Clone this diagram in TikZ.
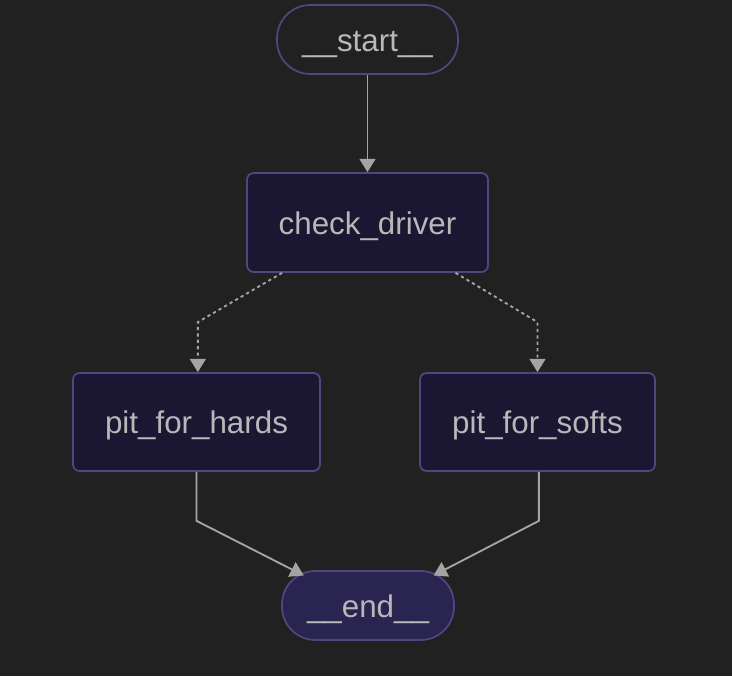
\documentclass[tikz,border=0pt]{standalone}
\usepackage{fontspec}
\setmainfont{Liberation Sans}
\usetikzlibrary{positioning}
\usetikzlibrary{arrows.meta}

\definecolor{bgcol}{HTML}{212121}
\definecolor{boxfill}{HTML}{1B1732}
\definecolor{endfill}{HTML}{2A2450}
\definecolor{rimcol}{HTML}{52467F}
\definecolor{txtcol}{HTML}{B8B8B8}
\definecolor{edgecol}{HTML}{A4A4A4}

\tikzset{
	stepbox/.style={draw=rimcol,line width=1.3pt,fill=boxfill,rounded corners=5pt,
		inner sep=0pt,text=txtcol,font=\fontsize{23.5}{28}\selectfont,
		text height=21.6pt,text depth=4.2pt},
	ends/.style={stepbox,rounded corners=25pt,minimum height=51.75pt},
	flow/.style={draw=edgecol,line width=1.4pt,-{Triangle[length=10pt,width=12pt]}},
	maybe/.style={flow,dash pattern=on 2.4pt off 2.4pt}
}

\begin{document}
\begin{tikzpicture}[x=0.75pt,y=-0.75pt]
	\fill[bgcol] (0,0) rectangle (732,676);
	\useasboundingbox (0,0) rectangle (732,676);

	% nodes
	\node[ends,fill=bgcol,minimum width=135.75pt] (start) at (367.5,39.5) {\_\_start\_\_};
	\node[stepbox,minimum width=180.75pt,minimum height=74.25pt] (check) at (367.5,222.5) {check\_driver};
	\node[stepbox,minimum width=185.25pt,minimum height=73.5pt] (hards) at (196.5,422) {pit\_for\_hards};
	\node[stepbox,minimum width=176.25pt,minimum height=73.5pt] (softs) at (537.5,422) {pit\_for\_softs};
	\node[ends,fill=endfill,minimum width=129pt] (end) at (368,605.5) {\_\_end\_\_};

	% edges
	\draw[flow] (start) -- (check);
	\draw[maybe] ([xshift=27pt]check.south west) -- ([xshift=1pt,yshift=37.5pt]hards.north) -- ([xshift=1pt]hards.north);
	\draw[maybe] ([xshift=-25pt]check.south east) -- ([yshift=37.5pt]softs.north) -- (softs.north);
	\draw[flow] (hards.south) -- ++(0,49) -- ([xshift=17pt,yshift=-4pt]end.north west);
	\draw[flow] ([xshift=1pt]softs.south) -- ++(0,49) -- ([xshift=-16pt,yshift=-4pt]end.north east);
\end{tikzpicture}
\end{document}
